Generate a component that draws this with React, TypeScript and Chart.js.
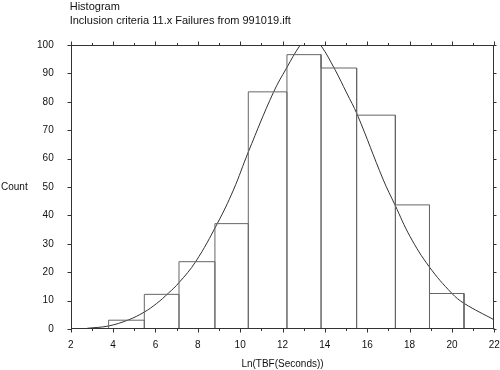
import React, { useEffect, useRef } from "react";
import { Chart, registerables } from "chart.js";

Chart.register(...registerables);

const titleLines = ["Histogram", "Inclusion criteria 11.x Failures from 991019.ift"];
const xAxisLabel = "Ln(TBF(Seconds))";
const yAxisLabel = "Count";

// histogram bin edges (Ln seconds) and bar heights (counts)
const binEdges = [3.79, 5.475, 7.113, 8.81, 10.385, 12.21, 13.82, 15.5, 17.33, 18.94, 20.57];
const counts = [3.1, 12.2, 23.7, 37.1, 83.5, 96.6, 91.9, 75.3, 43.7, 12.5];

// fitted distribution curve
const curveX = [2.78, 3.78, 4.72, 5.46, 6.06, 6.61, 7.11, 7.9, 8.92, 9.68, 10.39, 11.57, 12.2, 12.83, 13.31, 13.8, 14.48, 15.03, 15.53, 16.76, 17.31, 18.02, 18.93, 19.99, 20.58, 22];
const curveY = [0.25, 1.06, 3.2, 5.9, 9.0, 12.6, 16.3, 23.7, 37.1, 48.9, 62.4, 83.3, 92, 99.9, 104, 100, 91.3, 83.1, 75.5, 52.5, 43.7, 32.6, 21.9, 12.6, 9.0, 3.2];

const xTickValues = [2, 4, 6, 8, 10, 12, 14, 16, 18, 20, 22];
const yTickValues = [0, 10, 20, 30, 40, 50, 60, 70, 80, 90, 100];

const FONT = "'Liberation Sans', Arial, Helvetica, sans-serif";

export default function App() {
  const ref = useRef<HTMLCanvasElement | null>(null);

  useEffect(() => {
    if (!ref.current) return;

    const outline: { x: number; y: number }[] = [];
    for (let i = 0; i < counts.length; i++) {
      outline.push({ x: binEdges[i], y: 0 });
      outline.push({ x: binEdges[i], y: counts[i] });
      outline.push({ x: binEdges[i + 1], y: counts[i] });
      outline.push({ x: binEdges[i + 1], y: 0 });
    }
    const curve = curveX.map((x, i) => ({ x, y: curveY[i] }));

    const framePlugin = {
      id: "frame",
      afterDraw(chart: any) {
        const ctx = chart.ctx;
        const a = chart.chartArea;
        const xs = chart.scales.x;
        const ys = chart.scales.y;
        ctx.save();
        ctx.strokeStyle = "#333";
        ctx.lineWidth = 1;
        const L = Math.round(a.left) + 0.5;
        const R = Math.round(a.right) - 0.5;
        const T = Math.round(a.top) + 0.5;
        const B = Math.round(a.bottom) - 0.5;
        ctx.strokeRect(L, T, R - L, B - T);
        ctx.beginPath();
        for (let v = xs.min; v <= xs.max; v += 1) {
          const p = Math.round(xs.getPixelForValue(v)) + 0.5;
          const len = v % 2 === 0 ? 4 : 2.5;
          ctx.moveTo(p, B);
          ctx.lineTo(p, B + len);
          ctx.moveTo(p, T);
          ctx.lineTo(p, T - len);
        }
        yTickValues.forEach((v) => {
          const p = Math.round(ys.getPixelForValue(v)) + 0.5;
          ctx.moveTo(L - 4, p);
          ctx.lineTo(L, p);
          ctx.moveTo(R, p);
          ctx.lineTo(R + 3, p);
        });
        ctx.stroke();

        ctx.fillStyle = "#111";
        ctx.font = `11px ${FONT}`;
        ctx.textAlign = "left";
        ctx.textBaseline = "middle";
        ctx.fillText(titleLines[0], a.left - 1, 7);
        ctx.fillText(titleLines[1], a.left - 1, 21);
        ctx.font = `10px ${FONT}`;
        ctx.fillText(yAxisLabel, 1, (a.top + a.bottom) / 2);
        ctx.textAlign = "center";
        ctx.fillText(xAxisLabel, (a.left + a.right) / 2, 364);
        ctx.restore();
      },
    };

    const chart = new Chart(ref.current, {
      type: "line",
      data: {
        datasets: [
          {
            label: "Histogram",
            data: outline,
            borderColor: "#666",
            borderWidth: 1,
            pointRadius: 0,
            tension: 0,
            fill: false,
            clip: false as any,
          },
          {
            label: "Fit",
            data: curve,
            borderColor: "#333",
            borderWidth: 1,
            pointRadius: 0,
            tension: 0.4,
            fill: false,
            clip: 0 as any,
          },
        ],
      },
      plugins: [framePlugin],
      options: {
        animation: false,
        responsive: false,
        events: [],
        layout: { padding: { top: 45, right: 5.7, left: 0, bottom: 0 } },
        plugins: {
          legend: { display: false },
          tooltip: { enabled: false },
          title: { display: false },
        },
        scales: {
          x: {
            type: "linear",
            min: 2,
            max: 22,
            grid: { display: false },
            border: { display: false },
            afterFit: (s: any) => {
              s.height = 41;
              s.paddingLeft = 0;
              s.paddingRight = 0;
            },
            afterBuildTicks: (s: any) => {
              s.ticks = xTickValues.map((v) => ({ value: v }));
            },
            ticks: {
              padding: 2,
              color: "#111",
              font: { family: FONT, size: 10 },
              maxRotation: 0,
              autoSkip: false,
            },
          },
          y: {
            type: "linear",
            min: 0,
            max: 100,
            grid: { display: false },
            border: { display: false },
            afterFit: (s: any) => {
              s.width = 70.7;
              s.paddingTop = 0;
              s.paddingBottom = 0;
            },
            afterBuildTicks: (s: any) => {
              s.ticks = yTickValues.map((v) => ({ value: v }));
            },
            ticks: {
              padding: 9,
              color: "#111",
              font: { family: FONT, size: 10 },
              autoSkip: false,
            },
          },
        },
      },
    });
    return () => chart.destroy();
  }, []);

  return (
    <div style={{ position: "fixed", left: 0, top: 0, width: 500, height: 370, background: "#fff" }}>
      <canvas ref={ref} width={500} height={370} style={{ display: "block" }} />
    </div>
  );
}
